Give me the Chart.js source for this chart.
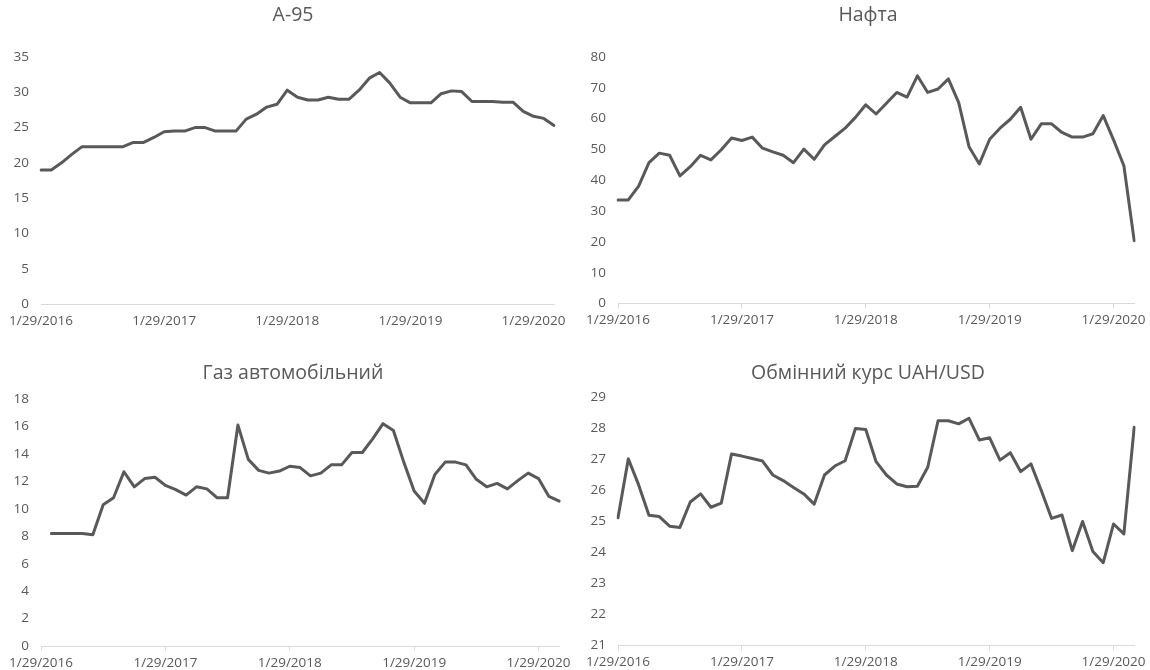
<!DOCTYPE html>
<html>
<head>
<meta charset="utf-8">
<title>Ціни на пальне та курс</title>
<script src="https://cdn.jsdelivr.net/npm/chart.js@4.4.1/dist/chart.umd.min.js"></script>
<style>
  html, body { margin: 0; padding: 0; background: #fff; }
  #grid { position: relative; width: 1150px; height: 670px; }
  .cell { position: absolute; width: 575px; height: 335px; }
  .cell canvas { display: block; }
</style>
</head>
<body>
<div id="grid">
  <div class="cell" style="left:0;top:0"><canvas id="c1" width="575" height="335"></canvas></div>
  <div class="cell" style="left:575px;top:0"><canvas id="c2" width="575" height="335"></canvas></div>
  <div class="cell" style="left:0;top:335px"><canvas id="c3" width="575" height="335"></canvas></div>
  <div class="cell" style="left:575px;top:335px"><canvas id="c4" width="575" height="335"></canvas></div>
</div>
<script>
// monthly observations, Jan 2016 .. Mar 2020
const months = [
  '2016-01','2016-02','2016-03','2016-04','2016-05','2016-06','2016-07','2016-08','2016-09','2016-10','2016-11','2016-12',
  '2017-01','2017-02','2017-03','2017-04','2017-05','2017-06','2017-07','2017-08','2017-09','2017-10','2017-11','2017-12',
  '2018-01','2018-02','2018-03','2018-04','2018-05','2018-06','2018-07','2018-08','2018-09','2018-10','2018-11','2018-12',
  '2019-01','2019-02','2019-03','2019-04','2019-05','2019-06','2019-07','2019-08','2019-09','2019-10','2019-11','2019-12',
  '2020-01','2020-02','2020-03'
];
const yearTicks = ['1/29/2016', '1/29/2017', '1/29/2018', '1/29/2019', '1/29/2020'];

const a95 = [
  19.0, 19.0, 20.0, 21.2, 22.3, 22.3, 22.3, 22.3, 22.3, 22.9, 22.9, 23.6,
  24.4, 24.5, 24.5, 25.0, 25.0, 24.5, 24.5, 24.5, 26.2, 26.9, 27.9, 28.3,
  30.3, 29.3, 28.9, 28.9, 29.3, 29.0, 29.0, 30.3, 32.0, 32.8, 31.3, 29.3,
  28.5, 28.5, 28.5, 29.8, 30.2, 30.1, 28.7, 28.7, 28.7, 28.6, 28.6, 27.3,
  26.6, 26.3, 25.3
];
const nafta = [
  33.6, 33.6, 38.1, 45.7, 48.8, 48.1, 41.4, 44.4, 48.1, 46.6, 49.9, 53.7,
  52.9, 54.0, 50.4, 49.2, 48.1, 45.7, 50.1, 46.8, 51.5, 54.2, 56.9, 60.4,
  64.5, 61.5, 65.0, 68.5, 67.0, 73.9, 68.5, 69.6, 72.9, 65.2, 50.9, 45.3,
  53.3, 56.9, 59.8, 63.7, 53.3, 58.3, 58.3, 55.5, 54.0, 54.0, 55.1, 61.0,
  53.1, 44.7, 20.4
];
const gas = [
  null, 8.2, 8.2, 8.2, 8.2, 8.1, 10.3, 10.8, 12.7, 11.6, 12.2, 12.3,
  11.7, 11.4, 11.0, 11.6, 11.45, 10.8, 10.8, 16.1, 13.6, 12.8, 12.6, 12.75,
  13.1, 13.0, 12.4, 12.6, 13.2, 13.2, 14.1, 14.1, 15.1, 16.2, 15.7, 13.4,
  11.3, 10.4, 12.5, 13.4, 13.4, 13.2, 12.15, 11.6, 11.85, 11.45, 12.05, 12.6,
  12.2, 10.9, 10.55
];
const uahUsd = [
  25.12, 27.02, 26.18, 25.2, 25.16, 24.85, 24.81, 25.63, 25.89, 25.46, 25.59, 27.18,
  27.11, 27.03, 26.95, 26.5, 26.32, 26.1, 25.89, 25.56, 26.5, 26.79, 26.96, 28.0,
  27.97, 26.93, 26.5, 26.21, 26.12, 26.14, 26.75, 28.25, 28.25, 28.15, 28.33, 27.63,
  27.7, 26.98, 27.22, 26.61, 26.86, 26.0, 25.1, 25.21, 24.06, 25.0, 24.03, 23.67,
  24.92, 24.6, 28.04
];

const INK = '#595959';
const AXIS = '#d9d9d9';
const FONT = "'Open Sans', sans-serif";
const W = 575, H = 335;
const TITLE_SIZE = 19.5;
const TICK_SIZE = 13.5;

// chart title at a fixed spot in the cell (the built-in one centres on the canvas)
const panelTitle = {
  id: 'panelTitle',
  afterDraw(chart, _args, opts) {
    const { ctx } = chart;
    ctx.save();
    ctx.font = `${TITLE_SIZE}px ${FONT}`;
    ctx.fillStyle = INK;
    ctx.textAlign = 'center';
    ctx.textBaseline = 'middle';
    ctx.fillText(opts.text, opts.x, opts.y);
    ctx.restore();
  }
};

// box = plot area inside the 575x335 cell; titleX/titleY = title centre
function panel(id, title, values, yMin, yMax, yStep, tickMarks, box) {
  new Chart(document.getElementById(id), {
    type: 'line',
    data: {
      labels: months,
      datasets: [{
        data: values,
        borderColor: INK,
        borderWidth: 3,
        borderJoinStyle: 'round',
        borderCapStyle: 'round',
        pointRadius: 0,
        tension: 0,
        fill: false
      }]
    },
    plugins: [panelTitle],
    options: {
      responsive: false,
      animation: false,
      devicePixelRatio: 1,
      layout: { padding: { left: 0, top: box.top, bottom: 0, right: W - box.right } },
      plugins: {
        legend: { display: false },
        tooltip: { enabled: false },
        title: { display: false },
        panelTitle: { text: title, x: box.titleX, y: box.titleY }
      },
      scales: {
        x: {
          offset: false,
          afterFit: s => { s.height = H - box.bottom; },
          afterBuildTicks: s => { s.ticks = s.ticks.filter(t => t.value % 12 === 0); },
          grid: {
            display: true,
            drawOnChartArea: false,
            drawTicks: tickMarks,
            tickLength: 5,
            tickColor: AXIS
          },
          border: { display: true, color: AXIS, width: 1 },
          ticks: {
            autoSkip: false,
            maxRotation: 0,
            color: INK,
            padding: tickMarks ? 4 : 9,
            font: { family: FONT, size: TICK_SIZE },
            callback: v => yearTicks[v / 12]
          }
        },
        y: {
          min: yMin,
          max: yMax,
          afterFit: s => { s.width = box.left; },
          grid: { display: false, drawTicks: false },
          border: { display: false },
          ticks: {
            stepSize: yStep,
            color: INK,
            padding: 12,
            font: { family: FONT, size: TICK_SIZE }
          }
        }
      }
    }
  });
}

panel('c1', 'А-95', a95, 0, 35, 5, false,
  { left: 41, right: 562, top: 57, bottom: 304, titleX: 293, titleY: 15 });
panel('c2', 'Нафта', nafta, 0, 80, 10, true,
  { left: 43, right: 563, top: 57, bottom: 303.5, titleX: 293, titleY: 15 });
panel('c3', 'Газ автомобільний', gas, 0, 18, 2, true,
  { left: 41, right: 562, top: 64, bottom: 311, titleX: 293, titleY: 38 });
panel('c4', 'Обмінний курс UAH/USD', uahUsd, 21, 29, 1, true,
  { left: 43, right: 563, top: 62.5, bottom: 310.5, titleX: 293, titleY: 38 });
</script>
</body>
</html>
